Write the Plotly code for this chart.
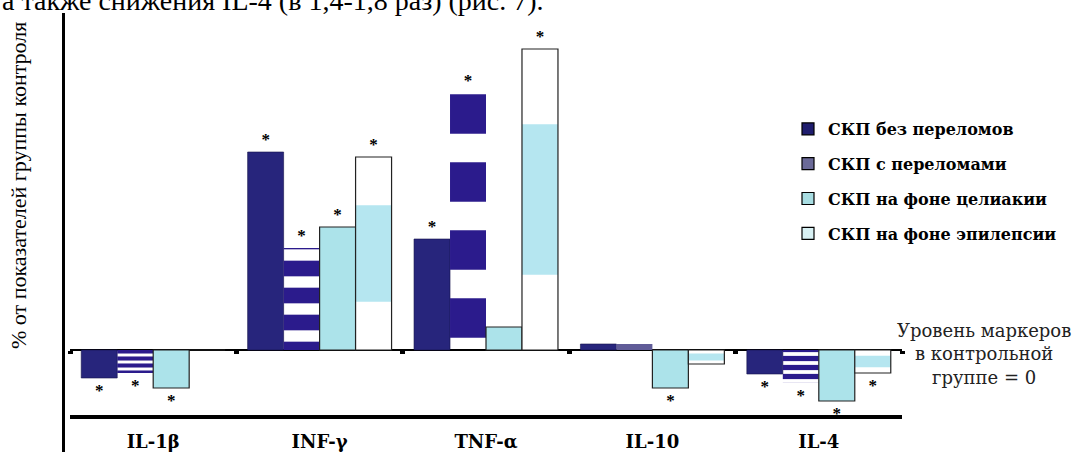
import plotly.graph_objects as go

categories = ["IL-1β", "INF-γ", "TNF-α", "IL-10", "IL-4"]
series_names = ["СКП без переломов", "СКП с переломами", "СКП на фоне целиакии", "СКП на фоне эпилепсии"]

# % relative to control group (control = 0)
s1 = [-28, 198, 111, 6, -24]
s2 = [-23, 102, 257, 6, -33]
s3 = [-38, 123, 23, -38, -51]
s4 = [0, 193, 301, -14, -23]

# significance markers (*)
sig1 = [1, 1, 1, 0, 1]
sig2 = [1, 1, 1, 0, 1]
sig3 = [1, 1, 0, 1, 1]
sig4 = [0, 1, 1, 0, 1]

# stripe pattern per bar for series 2
s2_shape = ["-", "-", "-", "", "-"]
s2_size = [7, 27, 68, 8, 9]

W, H = 1080, 452
L, R, T, B = 70, 178, 12, 37
ymin, ymax = -65, 338
pw, ph = W - L - R, H - T - B


def px_x(x):
    return (x - L) / pw


def px_y(y):
    return (H - B - y) / ph


def stars(sig):
    return ["*" if s else "" for s in sig]


serif = "Liberation Serif"
wide_serif = "DejaVu Serif"
star_font = dict(family=serif, size=17, color="black", weight="bold")

fig = go.Figure()

# series 1
fig.add_trace(go.Bar(
    x=categories, y=s1, offsetgroup="1", showlegend=False,
    marker=dict(color="#27257c", line=dict(color="#14134a", width=0.6)),
    text=stars(sig1), textposition="outside", textfont=star_font, cliponaxis=False,
))
# series 2 (striped)
fig.add_trace(go.Bar(
    x=categories, y=s2, offsetgroup="2", showlegend=False,
    marker=dict(
        color=["#2b1b8c", "#2b1b8c", "#2b1b8c", "#605c98", "#2b1b8c"],
        line=dict(width=0),
        pattern=dict(shape=s2_shape, size=s2_size, solidity=0.58,
                     fgcolor="white", fgopacity=1, fillmode="replace"),
    ),
    text=stars(sig2), textposition="outside", textfont=star_font, cliponaxis=False,
))
# series 3
fig.add_trace(go.Bar(
    x=categories, y=s3, offsetgroup="3", showlegend=False,
    marker=dict(color="#ace3ea", line=dict(color="#222", width=1.2)),
    text=stars(sig3), textposition="outside", textfont=star_font, cliponaxis=False,
))
# series 4: white body, light-blue middle band, black outline
fig.add_trace(go.Bar(
    x=categories, y=s4, offsetgroup="4", showlegend=False,
    marker=dict(color="white", line=dict(width=0)),
))
fig.add_trace(go.Bar(
    x=categories, y=[v * 0.5 for v in s4], base=[v * 0.25 for v in s4],
    offsetgroup="4", showlegend=False,
    marker=dict(color="#b5e6f0", line=dict(width=0)),
))
fig.add_trace(go.Bar(
    x=categories, y=s4, offsetgroup="4", showlegend=False,
    marker=dict(color="rgba(0,0,0,0)", line=dict(color="#222", width=1.2)),
    text=stars(sig4), textposition="outside", textfont=star_font, cliponaxis=False,
))

# legend entries
legend_colors = ["#1f1d6e", "#6b6a98", "#a8dde2", "#d8f1f4"]
for i, (name, col) in enumerate(zip(series_names, legend_colors)):
    fig.add_trace(go.Bar(
        x=categories, y=[None] * len(categories), offsetgroup=str(i + 1),
        name=name, legendgroup=str(i), showlegend=True,
        marker=dict(color=col, line=dict(color="black", width=1.2)),
    ))

# invisible trace carrying the boundary ticks on the zero level
fig.add_trace(go.Scatter(
    x=categories, y=[0] * len(categories), xaxis="x2", mode="markers",
    marker=dict(opacity=0), showlegend=False, hoverinfo="skip",
))

zero_pos = (0 - ymin) / (ymax - ymin)

fig.update_layout(
    width=W, height=H,
    margin=dict(l=L, r=R, t=T, b=B, autoexpand=False),
    paper_bgcolor="white", plot_bgcolor="white",
    barmode="group", bargap=0.135, bargroupgap=0,
    font=dict(family=serif, color="black"),
    xaxis=dict(
        type="category", categoryorder="array", categoryarray=categories,
        range=[-0.5, len(categories) - 0.5],
        showline=True, linewidth=4, linecolor="black",
        showgrid=False, ticks="", zeroline=False,
        tickfont=dict(family=wide_serif, size=18, color="black", weight="bold"),
        ticklabelstandoff=7,
    ),
    xaxis2=dict(
        type="category", categoryorder="array", categoryarray=categories,
        overlaying="x", anchor="free", position=zero_pos,
        range=[-0.5, len(categories) - 0.5],
        showline=False, showgrid=False, showticklabels=False,
        ticks="outside", tickson="boundaries", ticklen=3, tickwidth=5, tickcolor="black",
        zeroline=False,
    ),
    yaxis=dict(
        range=[ymin, ymax], showgrid=False, showticklabels=False, ticks="",
        showline=False, zeroline=True, zerolinecolor="black", zerolinewidth=1.8,
    ),
    legend=dict(
        x=px_x(788), y=px_y(112), xanchor="left", yanchor="top",
        font=dict(family=wide_serif, size=16, color="black", weight="bold"),
        traceorder="grouped", tracegroupgap=11, bgcolor="rgba(0,0,0,0)",
        itemclick=False, itemdoubleclick=False,
    ),
    showlegend=True,
)

# left vertical rule
fig.add_shape(type="line", xref="paper", yref="paper",
              x0=px_x(63.5), x1=px_x(63.5), y0=px_y(452), y1=px_y(13),
              line=dict(color="black", width=3))

# y axis title
fig.add_annotation(
    text="% от показателей группы контроля", textangle=-90,
    xref="paper", yref="paper", x=px_x(18), y=px_y(186),
    xanchor="center", yanchor="middle", showarrow=False,
    font=dict(family=serif, size=22, color="black"),
)

# right note on control level
fig.add_annotation(
    text="Уровень маркеров<br>в контрольной<br>группе = 0",
    xref="paper", yref="paper", x=px_x(984), y=px_y(354),
    xanchor="center", yanchor="middle", showarrow=False, align="center",
    font=dict(family=wide_serif, size=18, color="#222"),
)

# cut-off line of page text at top
fig.add_annotation(
    text="а также снижения IL-4 (в 1,4-1,8 раз) (рис. 7).",
    xref="paper", yref="paper", x=px_x(0), y=px_y(18),
    xanchor="left", yanchor="bottom", showarrow=False,
    font=dict(family=serif, size=28, color="black"),
)

fig.write_html(
    "out.html",
    config=dict(displayModeBar=False),
    post_script="document.body.style.margin='0';document.body.style.overflow='hidden';",
)
